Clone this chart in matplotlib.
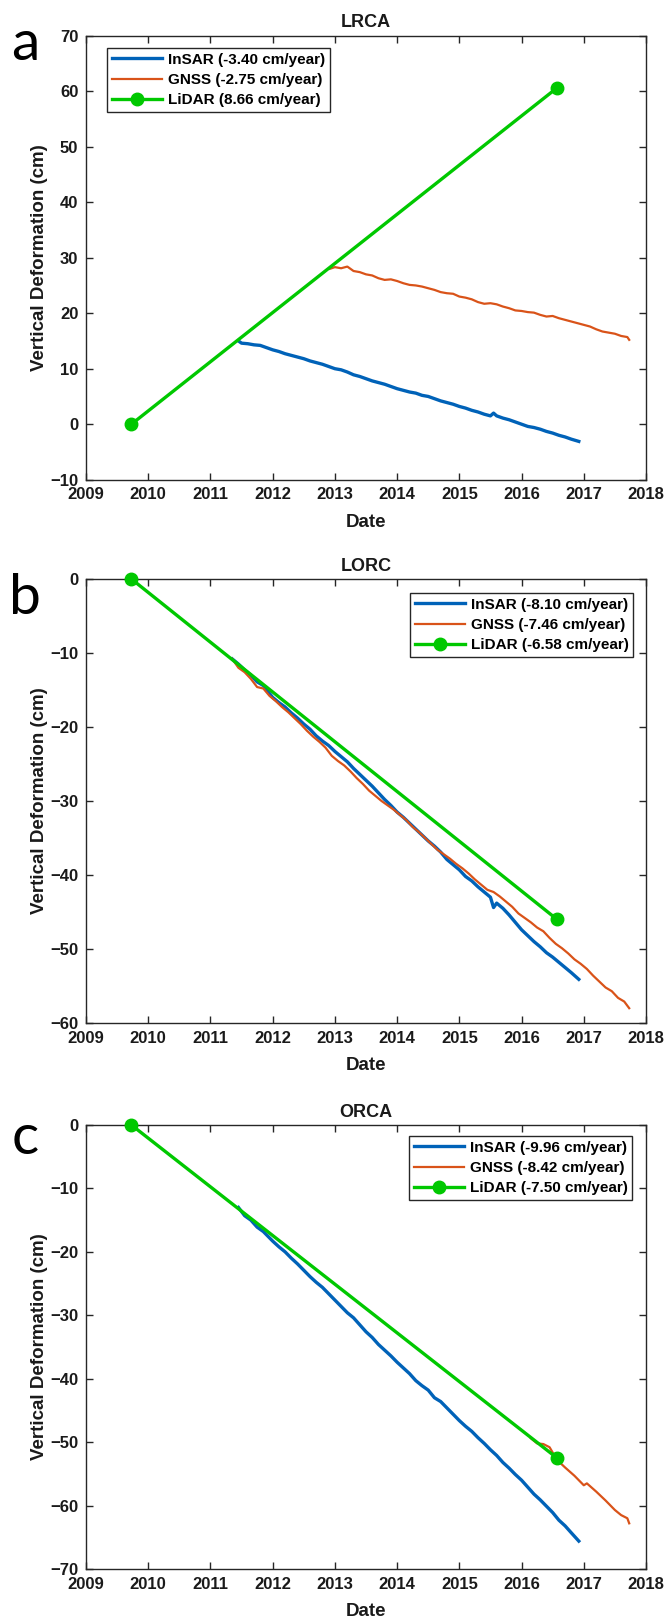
import matplotlib
matplotlib.use("Agg")
import matplotlib.pyplot as plt

plt.rcParams['font.family'] = ['Liberation Sans', 'DejaVu Sans']

# ---------------- data ----------------
panel_titles = ["LRCA", "LORC", "ORCA"]
panel_letters = ["a", "b", "c"]
insar_rates = ["-3.40", "-8.10", "-9.96"]
gnss_rates = ["-2.75", "-7.46", "-8.42"]
lidar_rates = ["8.66", "-6.58", "-7.50"]
ylims = [(-10, 70), (-60, 0), (-70, 0)]
xticks = [2009, 2010, 2011, 2012, 2013, 2014, 2015, 2016, 2017, 2018]

# Panel a (LRCA)
a_insar_t = [2011.45, 2011.5, 2011.6, 2011.7, 2011.8, 2011.9, 2012.0, 2012.1, 2012.2, 2012.3,
             2012.4, 2012.5, 2012.6, 2012.7, 2012.8, 2012.9, 2013.0, 2013.1, 2013.2, 2013.3,
             2013.4, 2013.5, 2013.6, 2013.7, 2013.8, 2013.9, 2014.0, 2014.1, 2014.2, 2014.3,
             2014.4, 2014.5, 2014.6, 2014.7, 2014.8, 2014.9, 2015.0, 2015.1, 2015.2, 2015.3,
             2015.4, 2015.5, 2015.55, 2015.6, 2015.7, 2015.8, 2015.9, 2016.0, 2016.1, 2016.2,
             2016.3, 2016.4, 2016.5, 2016.6, 2016.7, 2016.8, 2016.92]
a_insar_v = [15.0, 14.6, 14.5, 14.3, 14.2, 13.8, 13.4, 13.1, 12.7, 12.4,
             12.1, 11.8, 11.4, 11.1, 10.8, 10.4, 10.0, 9.8, 9.4, 8.9,
             8.6, 8.2, 7.8, 7.5, 7.2, 6.8, 6.4, 6.1, 5.8, 5.6,
             5.2, 5.0, 4.6, 4.2, 3.9, 3.6, 3.2, 2.9, 2.5, 2.2,
             1.8, 1.5, 2.0, 1.5, 1.1, 0.8, 0.4, 0.0, -0.4, -0.6,
             -0.9, -1.3, -1.6, -2.0, -2.3, -2.7, -3.1]
a_gnss_t = [2012.92, 2013.0, 2013.1, 2013.2, 2013.3, 2013.4, 2013.5, 2013.6, 2013.7, 2013.8,
            2013.9, 2014.0, 2014.1, 2014.2, 2014.3, 2014.4, 2014.5, 2014.6, 2014.7, 2014.8,
            2014.9, 2015.0, 2015.1, 2015.2, 2015.3, 2015.4, 2015.5, 2015.6, 2015.7, 2015.8,
            2015.9, 2016.0, 2016.1, 2016.2, 2016.3, 2016.4, 2016.5, 2016.6, 2016.7, 2016.8,
            2016.9, 2017.0, 2017.1, 2017.2, 2017.3, 2017.4, 2017.5, 2017.6, 2017.7, 2017.73]
a_gnss_v = [28.0, 28.3, 28.1, 28.4, 27.6, 27.4, 27.0, 26.8, 26.3, 26.0,
            26.1, 25.8, 25.4, 25.1, 25.0, 24.8, 24.5, 24.2, 23.8, 23.6,
            23.5, 23.0, 22.8, 22.5, 22.0, 21.7, 21.8, 21.6, 21.2, 20.9,
            20.5, 20.4, 20.2, 20.1, 19.7, 19.4, 19.5, 19.1, 18.8, 18.5,
            18.2, 17.9, 17.6, 17.1, 16.7, 16.5, 16.3, 15.9, 15.7, 15.2]
a_lidar_t = [2009.73, 2016.57]
a_lidar_v = [0.0, 60.6]

# Panel b (LORC)
b_insar_t = [2011.35, 2011.45, 2011.55, 2011.65, 2011.75, 2011.85, 2012.0, 2012.1, 2012.2, 2012.3,
             2012.4, 2012.5, 2012.6, 2012.7, 2012.8, 2012.9, 2013.0, 2013.1, 2013.2, 2013.3,
             2013.4, 2013.5, 2013.6, 2013.7, 2013.8, 2013.9, 2014.0, 2014.1, 2014.2, 2014.3,
             2014.4, 2014.5, 2014.6, 2014.7, 2014.8, 2014.9, 2015.0, 2015.1, 2015.2, 2015.3,
             2015.4, 2015.5, 2015.55, 2015.6, 2015.7, 2015.8, 2015.9, 2016.0, 2016.1, 2016.2,
             2016.3, 2016.4, 2016.5, 2016.6, 2016.7, 2016.8, 2016.92]
b_insar_v = [-10.8, -11.5, -12.3, -13.0, -13.9, -14.4, -16.0, -16.7, -17.3, -18.1,
             -18.8, -19.6, -20.3, -21.2, -21.9, -22.5, -23.3, -24.0, -24.7, -25.6,
             -26.4, -27.2, -28.0, -28.9, -29.8, -30.6, -31.5, -32.2, -33.0, -33.8,
             -34.6, -35.4, -36.1, -36.9, -37.9, -38.6, -39.3, -40.2, -40.8, -41.6,
             -42.3, -43.0, -44.4, -43.8, -44.5, -45.4, -46.4, -47.4, -48.2, -49.0,
             -49.7, -50.5, -51.1, -51.8, -52.5, -53.2, -54.1]
b_gnss_t = [2011.35, 2011.45, 2011.55, 2011.65, 2011.75, 2011.85, 2011.95, 2012.05, 2012.15, 2012.25,
            2012.35, 2012.45, 2012.55, 2012.65, 2012.75, 2012.85, 2012.95, 2013.05, 2013.15, 2013.25,
            2013.35, 2013.45, 2013.55, 2013.65, 2013.75, 2013.85, 2013.95, 2014.05, 2014.15, 2014.25,
            2014.35, 2014.45, 2014.55, 2014.65, 2014.75, 2014.85, 2014.95, 2015.05, 2015.15, 2015.25,
            2015.35, 2015.45, 2015.55, 2015.65, 2015.75, 2015.85, 2015.95, 2016.05, 2016.15, 2016.25,
            2016.35, 2016.45, 2016.55, 2016.65, 2016.75, 2016.85, 2016.95, 2017.05, 2017.15, 2017.25,
            2017.35, 2017.45, 2017.55, 2017.65, 2017.73]
b_gnss_v = [-10.8, -12.0, -12.6, -13.5, -14.6, -14.8, -15.8, -16.5, -17.3, -18.0,
            -18.8, -19.6, -20.5, -21.3, -22.0, -22.8, -23.9, -24.6, -25.2, -26.0,
            -26.9, -27.7, -28.6, -29.3, -30.0, -30.6, -31.2, -31.9, -32.6, -33.5,
            -34.2, -35.0, -35.8, -36.6, -37.2, -37.8, -38.5, -39.1, -39.8, -40.6,
            -41.3, -42.0, -42.3, -42.9, -43.6, -44.3, -45.2, -45.8, -46.4, -47.1,
            -47.6, -48.5, -49.3, -49.9, -50.6, -51.4, -52.0, -52.7, -53.6, -54.4,
            -55.2, -55.7, -56.6, -57.1, -58.0]
b_lidar_t = [2009.73, 2016.57]
b_lidar_v = [0.0, -46.0]

# Panel c (ORCA)
c_insar_t = [2011.45, 2011.55, 2011.65, 2011.75, 2011.85, 2012.0, 2012.1, 2012.2, 2012.3, 2012.4,
             2012.5, 2012.6, 2012.7, 2012.8, 2012.9, 2013.0, 2013.1, 2013.2, 2013.3, 2013.4,
             2013.5, 2013.6, 2013.7, 2013.8, 2013.9, 2014.0, 2014.1, 2014.2, 2014.3, 2014.4,
             2014.5, 2014.6, 2014.7, 2014.8, 2014.9, 2015.0, 2015.1, 2015.2, 2015.3, 2015.4,
             2015.5, 2015.6, 2015.7, 2015.8, 2015.9, 2016.0, 2016.1, 2016.2, 2016.3, 2016.4,
             2016.5, 2016.6, 2016.7, 2016.8, 2016.92]
c_insar_v = [-13.0, -14.3, -15.0, -16.1, -16.8, -18.3, -19.2, -20.0, -21.0, -21.9,
             -22.9, -23.9, -24.8, -25.6, -26.6, -27.6, -28.6, -29.6, -30.4, -31.5,
             -32.6, -33.5, -34.6, -35.5, -36.4, -37.4, -38.3, -39.2, -40.3, -41.1,
             -41.8, -43.0, -43.6, -44.6, -45.6, -46.6, -47.5, -48.3, -49.3, -50.2,
             -51.2, -52.1, -53.2, -54.1, -55.1, -56.0, -57.1, -58.2, -59.1, -60.1,
             -61.1, -62.3, -63.2, -64.3, -65.6]
c_gnss_t = [2016.15, 2016.25, 2016.35, 2016.45, 2016.57, 2016.7, 2016.85, 2017.0, 2017.05, 2017.2,
            2017.35, 2017.5, 2017.6, 2017.7, 2017.73]
c_gnss_v = [-49.4, -50.2, -50.3, -50.8, -52.8, -54.0, -55.3, -56.8, -56.5, -57.8,
            -59.2, -60.7, -61.5, -62.0, -62.8]
c_lidar_t = [2009.73, 2016.57]
c_lidar_v = [0.0, -52.5]

insar_t = [a_insar_t, b_insar_t, c_insar_t]
insar_v = [a_insar_v, b_insar_v, c_insar_v]
gnss_t = [a_gnss_t, b_gnss_t, c_gnss_t]
gnss_v = [a_gnss_v, b_gnss_v, c_gnss_v]
lidar_t = [a_lidar_t, b_lidar_t, c_lidar_t]
lidar_v = [a_lidar_v, b_lidar_v, c_lidar_v]

# ---------------- styling / layout ----------------
C_INSAR = "#0062B8"
C_GNSS = "#D95319"
C_LIDAR = "#00C800"
AX_COLOR = "#262626"

W, H = 668, 1620
fig = plt.figure(figsize=(W / 100, H / 100), dpi=100)

ax_left, ax_width = 86, 560
ax_tops = [35.7, 579, 1125]
ax_height = 444
legend_specs = [
    dict(loc="upper left", bbox=(21.5 / 560, 1 - 12.3 / 444)),
    dict(loc="upper right", bbox=(1 - 13 / 560, 1 - 14 / 444)),
    dict(loc="upper right", bbox=(1 - 14 / 560, 1 - 11 / 444)),
]
letter_pos = [(11, 60), (9, 614), (12, 1154)]

for i in range(3):
    top = ax_tops[i]
    ax = fig.add_axes([ax_left / W, 1 - (top + ax_height) / H, ax_width / W, ax_height / H])
    ax.plot(insar_t[i], insar_v[i], color=C_INSAR, lw=2.4, solid_joinstyle="round",
            label=f"InSAR ({insar_rates[i]} cm/year)", zorder=2)
    ax.plot(gnss_t[i], gnss_v[i], color=C_GNSS, lw=1.6, solid_joinstyle="round",
            label=f"GNSS ({gnss_rates[i]} cm/year)", zorder=2)
    ax.plot(lidar_t[i], lidar_v[i], color=C_LIDAR, lw=2.4, marker="o", ms=9,
            label=f"LiDAR ({lidar_rates[i]} cm/year)", zorder=3, clip_on=False)

    ax.set_xlim(2009, 2018)
    ax.set_ylim(*ylims[i])
    ax.set_xticks(xticks)
    lo, hi = ylims[i]
    ax.set_yticks(list(range(lo, hi + 1, 10)))
    ax.tick_params(direction="in", length=4.7, width=1.0, top=True, right=True,
                   labelsize=12, pad=5.5, colors=AX_COLOR, labelcolor="#1a1a1a")
    for lab in ax.get_xticklabels() + ax.get_yticklabels():
        lab.set_fontweight("bold")
    for sp in ax.spines.values():
        sp.set_linewidth(1.0)
        sp.set_color(AX_COLOR)

    ax.set_title(panel_titles[i], fontsize=13, fontweight="bold", pad=6.0, color="#1a1a1a")
    ax.set_xlabel("Date", fontsize=13.5, fontweight="bold", color="#1a1a1a")
    ax.set_ylabel("Vertical Deformation (cm)", fontsize=13.5, fontweight="bold", color="#1a1a1a")
    ax.xaxis.set_label_coords(0.5, -(514 - 480) / 444)
    ax.yaxis.set_label_coords(-(86 - 48) / 560, 0.5)

    spec = legend_specs[i]
    leg = ax.legend(loc=spec["loc"], bbox_to_anchor=spec["bbox"], borderaxespad=0,
                    prop=dict(size=11, weight="bold"), frameon=True, fancybox=False,
                    edgecolor=AX_COLOR, framealpha=1, borderpad=0.3, labelspacing=0.42,
                    handlelength=3.3, handletextpad=0.35, numpoints=1)
    leg.get_frame().set_linewidth(1.0)

    fig.text(letter_pos[i][0] / W, 1 - letter_pos[i][1] / H, panel_letters[i],
             fontsize=41, family=["Lato", "DejaVu Sans"], va="baseline", ha="left",
             color="black")

fig.savefig("out.png", dpi=100)
